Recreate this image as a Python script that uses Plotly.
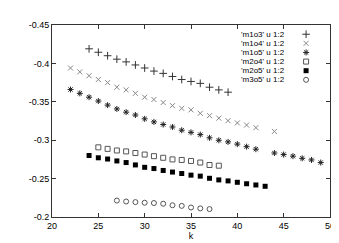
import plotly.graph_objects as go

# ---- data ----
k_m1o3 = list(range(24, 40))
v_m1o3 = [-0.419, -0.4145, -0.410, -0.4055, -0.402, -0.398, -0.394, -0.390,
          -0.387, -0.383, -0.379, -0.3765, -0.374, -0.369, -0.3655, -0.3625]

k_m1o4 = list(range(22, 43)) + [44]
v_m1o4 = [-0.394, -0.389, -0.384, -0.379, -0.375, -0.369, -0.3655, -0.361,
          -0.356, -0.353, -0.349, -0.345, -0.3415, -0.3395, -0.335, -0.332,
          -0.3287, -0.3254, -0.3225, -0.3197, -0.3163, -0.3114]

k_m1o5 = list(range(22, 43)) + list(range(44, 50))
v_m1o5 = [-0.366, -0.361, -0.356, -0.351, -0.3457, -0.3407, -0.3365, -0.3328,
          -0.3278, -0.3238, -0.3204, -0.3172, -0.313, -0.3102, -0.3073, -0.3031,
          -0.2999, -0.2978, -0.2949, -0.2916, -0.2883, -0.2833, -0.2813, -0.2792,
          -0.2764, -0.2743, -0.2709]

k_m2o4 = list(range(25, 39))
v_m2o4 = [-0.2907, -0.2887, -0.2866, -0.2854, -0.2833, -0.2813, -0.2792,
          -0.2771, -0.275, -0.2743, -0.273, -0.2709, -0.2677, -0.2668]

k_m2o5 = list(range(24, 44))
v_m2o5 = [-0.2801, -0.2771, -0.2755, -0.273, -0.2709, -0.2678, -0.2647, -0.2631,
          -0.2606, -0.2585, -0.2566, -0.2545, -0.2532, -0.2504, -0.2483, -0.247,
          -0.2452, -0.2433, -0.2417, -0.24]

k_m3o5 = list(range(27, 38))
v_m3o5 = [-0.2214, -0.2202, -0.2194, -0.2186, -0.2182, -0.2173, -0.2153,
          -0.2145, -0.2124, -0.2112, -0.2103]

series_names = ["'m1o3' u 1:2", "'m1o4' u 1:2", "'m1o5' u 1:2",
                "'m2o4' u 1:2", "'m2o5' u 1:2", "'m3o5' u 1:2"]

x_ticks = [20, 25, 30, 35, 40, 45, 50]
y_ticks = [-0.45, -0.4, -0.35, -0.3, -0.25, -0.2]
y_tick_labels = ["-0.45", "-0.4", "-0.35", "-0.3", "-0.25", "-0.2"]

# ---- styles ----
styles = [
    dict(symbol="cross-thin-open", size=5.5, color="#333333", line=dict(width=1, color="#333333")),
    dict(symbol="x-thin-open", size=5, color="#888888", line=dict(width=1, color="#888888")),
    dict(symbol="asterisk-open", size=5, color="#222222", line=dict(width=1, color="#222222")),
    dict(symbol="square-open", size=5, color="#555555", line=dict(width=1, color="#555555")),
    dict(symbol="square", size=5, color="#000000", line=dict(width=0)),
    dict(symbol="circle-open", size=5, color="#555555", line=dict(width=1, color="#555555")),
]

data = [(k_m1o3, v_m1o3), (k_m1o4, v_m1o4), (k_m1o5, v_m1o5),
        (k_m2o4, v_m2o4), (k_m2o5, v_m2o5), (k_m3o5, v_m3o5)]

fig = go.Figure()
for (ks, vs), name, st in zip(data, series_names, styles):
    fig.add_trace(go.Scatter(x=ks, y=vs, mode="markers", name=name,
                             marker=st, showlegend=False, hoverinfo="skip"))

# gnuplot-style key: text right-aligned, sample to the right
key_text_x = 0.842
key_mark_x = 0.914
key_top = 0.952
key_step = 0.0475
annotations = []
for i, (name, st) in enumerate(zip(series_names, styles)):
    yy = key_top - i * key_step
    annotations.append(dict(x=key_text_x, y=yy, xref="paper", yref="paper",
                            text=name, showarrow=False, xanchor="right",
                            yanchor="middle", borderpad=0,
                            font=dict(family="Liberation Sans, Arial", size=8, color="#000")))
    fig.add_trace(go.Scatter(x=[key_mark_x], y=[yy], xaxis="x2", yaxis="y2",
                             mode="markers", marker=st, showlegend=False,
                             hoverinfo="skip"))

axis_common = dict(showline=True, linecolor="#333333", linewidth=1, mirror="allticks",
                   ticks="inside", ticklen=4, tickcolor="#333333", showgrid=False,
                   zeroline=False,
                   tickfont=dict(family="Liberation Sans, Arial", size=9, color="#000"))

fig.update_layout(
    width=339, height=243,
    margin=dict(l=44, r=17, t=12, b=29),
    paper_bgcolor="white", plot_bgcolor="white",
    xaxis=dict(range=[20, 50], tickvals=x_ticks, ticktext=[str(t) for t in x_ticks],
               title=dict(text="k", standoff=2,
                          font=dict(family="Liberation Sans, Arial", size=9, color="#000")),
               **axis_common),
    yaxis=dict(range=[-0.2, -0.45], tickvals=y_ticks, ticktext=y_tick_labels,
               **axis_common),
    xaxis2=dict(range=[0, 1], overlaying="x", visible=False, fixedrange=True),
    yaxis2=dict(range=[0, 1], overlaying="y", visible=False, fixedrange=True),
    annotations=annotations,
    showlegend=False,
)

fig.write_html("out.html")
